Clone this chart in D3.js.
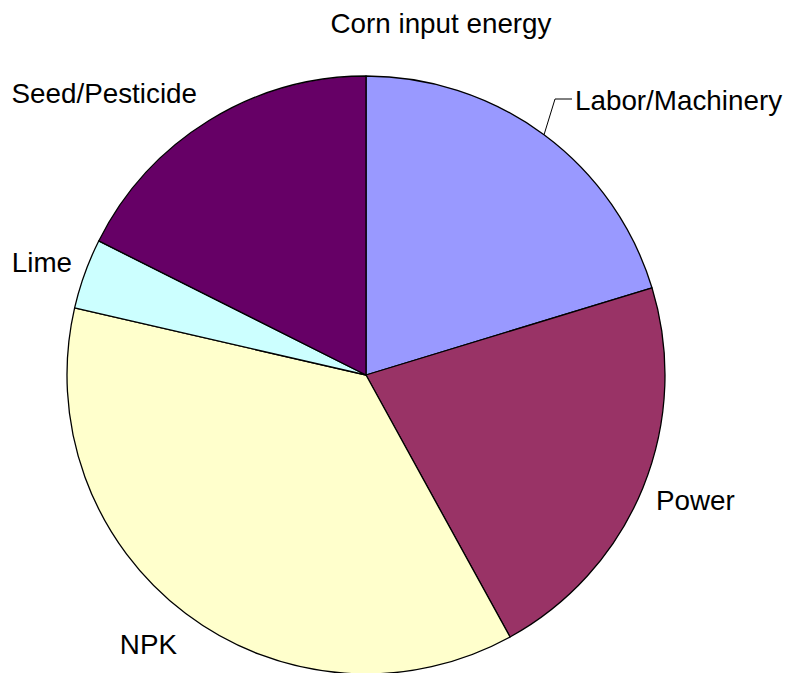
<!DOCTYPE html>
<html>
<head>
<meta charset="utf-8">
<script src="https://cdn.jsdelivr.net/npm/d3@7/dist/d3.min.js"></script>
<style>
  html, body { margin: 0; padding: 0; background: #fff; }
  svg { display: block; }
  text { font-family: Arial, "Liberation Sans", sans-serif; fill: #000; }
</style>
</head>
<body>
<svg id="chart" width="792" height="673"></svg>
<script>
// Share of energy inputs for corn production (%)
const categories = ["Labor/Machinery", "Power", "NPK", "Lime", "Seed/Pesticide"];
const values = [20.3, 21.7, 36.6, 3.8, 17.6];
const colors = ["#9999FF", "#993366", "#FFFFCC", "#CCFFFF", "#660066"];
const title = "Corn input energy";

const width = 792, height = 673;
const cx = 366, cy = 375, radius = 299;
const fontSize = 27.8;

const svg = d3.select("#chart");

svg.append("text")
  .attr("x", 441)
  .attr("y", 33)
  .attr("text-anchor", "middle")
  .style("font-size", fontSize + "px")
  .text(title);

const pie = d3.pie().sort(null).value(d => d.value);
const arcs = pie(categories.map((c, i) => ({ name: c, value: values[i], color: colors[i] })));
const arc = d3.arc().innerRadius(0).outerRadius(radius);

const g = svg.append("g").attr("transform", `translate(${cx},${cy})`);

g.selectAll("path")
  .data(arcs)
  .join("path")
  .attr("d", arc)
  .attr("fill", d => d.data.color)
  .attr("stroke", "#000")
  .attr("stroke-width", 1.3)
  .attr("stroke-linejoin", "round");

// Label placement around the pie
const labelLayout = {
  "Labor/Machinery": { anchor: "start", x: 575, y: 110, leader: true },
  "Power":           { anchor: "start", x: 656, y: 510 },
  "NPK":             { anchor: "end",   x: 177, y: 654 },
  "Lime":            { anchor: "end",   x: 72,  y: 272 },
  "Seed/Pesticide":  { anchor: "end",   x: 197, y: 103 }
};

arcs.forEach(d => {
  const lay = labelLayout[d.data.name];
  const mid = (d.startAngle + d.endAngle) / 2;
  if (lay.leader) {
    const px = cx + radius * Math.sin(mid);
    const py = cy - radius * Math.cos(mid);
    const elbowY = lay.y - 11;
    svg.append("path")
      .attr("d", `M${px},${py} L${px + 11},${elbowY} L${lay.x - 3},${elbowY}`)
      .attr("fill", "none")
      .attr("stroke", "#000")
      .attr("stroke-width", 1);
  }
  svg.append("text")
    .attr("x", lay.x)
    .attr("y", lay.y)
    .attr("text-anchor", lay.anchor)
    .style("font-size", fontSize + "px")
    .text(d.data.name);
});
</script>
</body>
</html>
